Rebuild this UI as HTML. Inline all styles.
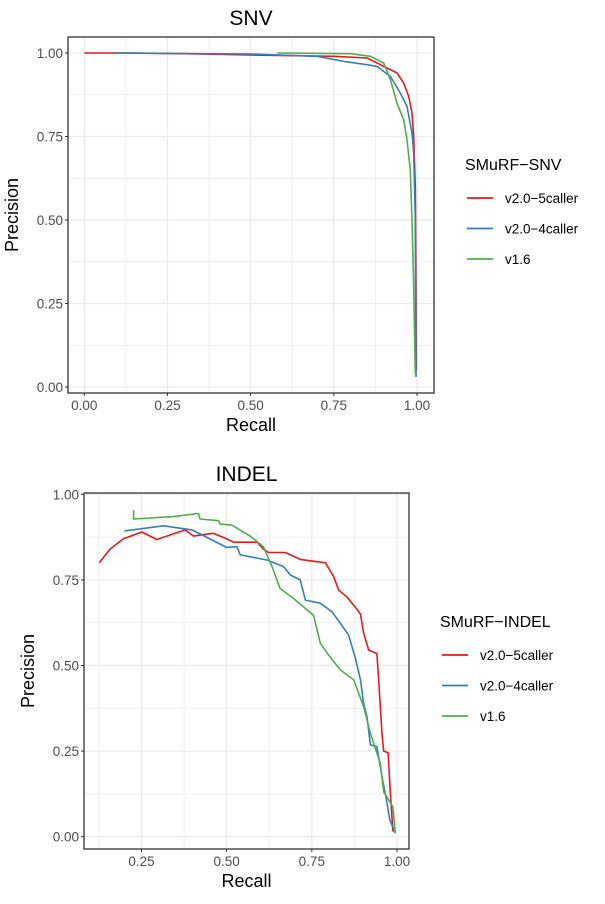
<!DOCTYPE html>
<html><head><meta charset="utf-8"><style>
body{margin:0;background:#fff;}
svg{display:block;font-family:"Liberation Sans",Arial,sans-serif;}
</style></head><body>
<svg id="c" width="605" height="904" viewBox="0 0 605 904"></svg>
<script>
// SNV panel data
const snvRed = [[0,1],[0.1,1],[0.3,0.998],[0.5,0.994],[0.75,0.99],[0.85,0.985],[0.9,0.96],[0.94,0.94],[0.96,0.91],[0.975,0.87],[0.985,0.82],[0.99,0.75],[0.995,0.6],[0.997,0.3],[0.998,0.05]];
const snvBlue = [[0.09,1],[0.5,0.997],[0.7,0.99],[0.78,0.975],[0.85,0.965],[0.88,0.96],[0.92,0.93],[0.95,0.88],[0.97,0.84],[0.985,0.76],[0.99,0.7],[0.995,0.5],[0.996,0.2],[0.997,0.03]];
const snvGreen = [[0.58,1],[0.8,0.998],[0.86,0.99],[0.9,0.97],[0.92,0.92],[0.94,0.85],[0.96,0.8],[0.97,0.74],[0.98,0.65],[0.985,0.5],[0.99,0.3],[0.995,0.04]];
// INDEL panel data
const indelRed = [[0.126,0.80],[0.158,0.84],[0.197,0.87],[0.251,0.89],[0.295,0.868],[0.378,0.896],[0.403,0.878],[0.46,0.886],[0.5,0.87],[0.52,0.86],[0.59,0.86],[0.608,0.84],[0.623,0.83],[0.672,0.83],[0.716,0.81],[0.79,0.80],[0.814,0.76],[0.829,0.72],[0.853,0.70],[0.878,0.67],[0.893,0.65],[0.902,0.595],[0.917,0.545],[0.941,0.535],[0.946,0.46],[0.956,0.30],[0.961,0.25],[0.974,0.245],[0.98,0.135],[0.988,0.015]];
const indelBlue = [[0.2,0.893],[0.315,0.908],[0.398,0.896],[0.442,0.874],[0.5,0.845],[0.53,0.847],[0.54,0.823],[0.618,0.808],[0.667,0.789],[0.687,0.764],[0.716,0.75],[0.731,0.691],[0.775,0.682],[0.809,0.657],[0.834,0.623],[0.858,0.589],[0.878,0.521],[0.893,0.458],[0.902,0.39],[0.912,0.35],[0.922,0.268],[0.941,0.263],[0.956,0.175],[0.971,0.097],[0.979,0.049],[0.995,0.01]];
const indelGreen = [[0.227,0.954],[0.227,0.928],[0.344,0.935],[0.417,0.944],[0.422,0.928],[0.476,0.923],[0.481,0.913],[0.515,0.91],[0.569,0.878],[0.608,0.847],[0.633,0.789],[0.657,0.725],[0.696,0.696],[0.755,0.647],[0.775,0.565],[0.799,0.531],[0.834,0.487],[0.873,0.458],[0.902,0.38],[0.922,0.302],[0.951,0.214],[0.961,0.131],[0.988,0.087],[0.995,0.01]];
const snvXTicks = [0,0.25,0.5,0.75,1];
const indelXTicks = [0.25,0.5,0.75,1];
const yTicks = [0,0.25,0.5,0.75,1];
const seriesNames = ["v2.0\u22125caller","v2.0\u22124caller","v1.6"];
const colors = ["#e41a1c","#377eb8","#4daf4a"];

const svg = document.getElementById('c');
const NS = 'http://www.w3.org/2000/svg';
function mk(tag, attrs, parent){const e=document.createElementNS(NS,tag);for(const k in attrs)e.setAttribute(k,attrs[k]);(parent||svg).appendChild(e);return e;}

function panel(cfg){
  const g = mk('g',{});
  
  
  const sx = v => cfg.x0 + v*(cfg.x1-cfg.x0);
  const sy = v => cfg.y0 - v*(cfg.y0-cfg.y1);
  for(let v=cfg.xmin; v<=1.0001; v+=0.125){
    const major = Math.abs(v*4-Math.round(v*4))<1e-6;
    const l = mk('line',{x1:sx(v),x2:sx(v),y1:cfg.by0,y2:cfg.by1,stroke:'#ebebeb','stroke-width':major?1.3:0.7},g);
    
    
  }
  for(let v=0; v<=1.0001; v+=0.125){
    const major = Math.abs(v*4-Math.round(v*4))<1e-6;
    const l = mk('line',{x1:cfg.bx0,x2:cfg.bx1,y1:sy(v),y2:sy(v),stroke:'#ebebeb','stroke-width':major?1.3:0.7},g);
    
    
  }
  cfg.series.forEach((s,i)=>{
    const p = mk('polyline',{points:s.map(d=>sx(d[0]).toFixed(1)+','+sy(d[1]).toFixed(1)).join(' '),fill:'none',stroke:colors[i],'stroke-width':1.6,'stroke-linejoin':'round'},g);
    
    
  });
  const b = mk('rect',{x:cfg.bx0,y:cfg.by0,width:cfg.bx1-cfg.bx0,height:cfg.by1-cfg.by0,fill:'none',stroke:'#333','stroke-width':1.3},g);
  
  
  cfg.xticks.forEach(v=>{
    mk('line',{x1:sx(v),x2:sx(v),y1:cfg.by1,y2:cfg.by1+3,stroke:'#333'},g);
    const t = mk('text',{x:sx(v),y:cfg.by1+17,'text-anchor':'middle','font-size':13.5,fill:'#4d4d4d'},g);
    t.textContent = v.toFixed(2);
    
    
  });
  yTicks.forEach(v=>{
    mk('line',{x1:cfg.bx0-3,x2:cfg.bx0,y1:sy(v),y2:sy(v),stroke:'#333'},g);
    const t = mk('text',{x:cfg.bx0-5,y:sy(v)+5,'text-anchor':'end','font-size':13.5,fill:'#4d4d4d'},g);
    t.textContent = v.toFixed(2);
    
    
  });
  const xt = mk('text',{x:(cfg.bx0+cfg.bx1)/2,y:cfg.by1+38,'text-anchor':'middle','font-size':18,fill:'#000'},g);
  xt.textContent='Recall';
  
  
  const yx = cfg.ytx, yy=(cfg.by0+cfg.by1)/2;
  const yt = mk('text',{x:yx,y:yy,'text-anchor':'middle','font-size':18,fill:'#000',transform:`rotate(-90 ${yx} ${yy})`},g);
  yt.textContent='Precision';
  
  
  const tt = mk('text',{x:(cfg.bx0+cfg.bx1)/2,y:cfg.by0-12,'text-anchor':'middle','font-size':21,fill:'#000'},g);
  tt.textContent=cfg.title;
  
  
  const lg = mk('g',{},g);
  
  
  const lt = mk('text',{x:cfg.lx,y:cfg.ly,'font-size':16,fill:'#000'},lg);
  lt.textContent = cfg.ltitle;
  
  
  seriesNames.forEach((n,i)=>{
    const y = cfg.ly+cfg.lgap0+i*30.5;
    const e = mk('g',{},lg);
    
    
    mk('line',{x1:cfg.lx+2,x2:cfg.lx+28,y1:y,y2:y,stroke:colors[i],'stroke-width':1.8},e);
    const t = mk('text',{x:cfg.lx+40,y:y+5,'font-size':13.5,fill:'#000'},e);
    t.textContent=n;
  });
}
panel({name:'snv',title:'SNV',x0:84.3,x1:417,y0:387,y1:53,bx0:68,bx1:434,by0:37,by1:393,xmin:0,xticks:snvXTicks,ytx:18,
  series:[snvRed,snvBlue,snvGreen],lx:465,ly:170,lgap0:28,ltitle:'SMuRF\u2212SNV'});
panel({name:'indel',title:'INDEL',x0:56.3,x1:397,y0:836.7,y1:494.3,bx0:84,bx1:409,by0:493,by1:849,xmin:0.125,xticks:indelXTicks,ytx:34,
  series:[indelRed,indelBlue,indelGreen],lx:440,ly:627,lgap0:28,ltitle:'SMuRF\u2212INDEL'});
</script>
</body></html>
